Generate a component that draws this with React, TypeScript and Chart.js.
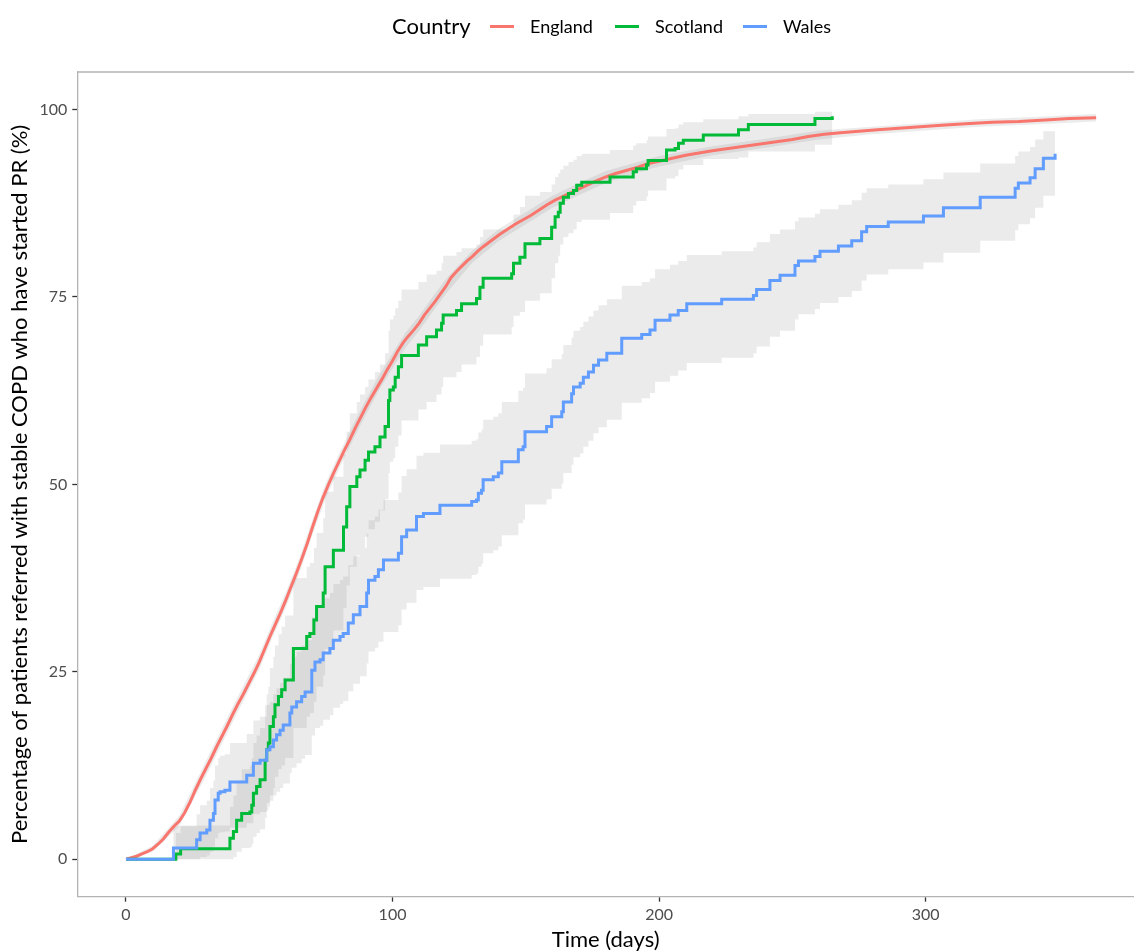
import React, { useEffect, useRef } from "react";
import { Chart, registerables } from "chart.js";

Chart.register(...registerables);

// ---------------- data ----------------
const countries = ["England", "Scotland", "Wales"];
const xTicks = [0, 100, 200, 300];
const yTicks = [0, 25, 50, 75, 100];

const englandDays = [0,2,4,6,8,10,12,14,16,18,20,22,24,26,28,30,32,34,36,38,40,42,44,46,48,50,52,54,56,58,60,62,64,66,68,70,72,74,76,78,80,82,84,86,88,90,92,94,96,98,100,102,104,106,108,110,112,114,116,118,120,122,124,126,128,130,132,134,137,140,143,146,149,152,155,158,161,164,167,170,173,176,180,184,188,192,196,200,205,210,215,220,226,232,238,244,250,256,262,268,275,282,290,298,306,315,325,335,345,354,364];
const englandPct = [0,0.2,0.4,0.7,1.0,1.4,2.0,2.7,3.6,4.4,5.1,6.2,7.6,9.2,10.7,12.1,13.5,15.0,16.4,17.8,19.3,20.7,22.0,23.4,24.8,26.3,28.0,29.7,31.3,32.9,34.6,36.4,38.2,40.1,42.1,44.3,46.4,48.3,50.0,51.6,53.1,54.6,56.0,57.5,58.9,60.3,61.6,62.8,64.0,65.3,66.5,67.8,68.9,69.8,70.6,71.5,72.6,73.5,74.4,75.4,76.4,77.6,78.4,79.1,79.8,80.4,81.1,81.7,82.5,83.3,84.0,84.7,85.3,85.9,86.6,87.3,87.9,88.4,88.9,89.4,89.9,90.4,91.0,91.5,91.9,92.3,92.8,93.1,93.5,93.9,94.2,94.5,94.8,95.1,95.4,95.7,96.0,96.4,96.7,96.9,97.1,97.3,97.5,97.7,97.9,98.1,98.3,98.4,98.6,98.8,98.9];

const englandBandDays = [0,10,20,30,40,50,55,60,65,70,75,80,85,90,95,100,105,110,115,120,130,140,150,160,170,180,190,200,220,240,260,280,300,320,340,364];
const englandUpper = [0,1.8,5.8,13.1,20.3,27.3,31.6,35.6,40.1,45.3,50.2,54.1,57.8,61.3,64.6,67.5,70.3,72.5,75,77.4,81.2,84.1,86.3,88.5,90.2,91.8,92.8,93.8,95.1,96.1,97.2,97.7,98.2,98.7,99,99.4];
const englandLower = [0,1.0,4.4,11.1,18.3,25.3,29.6,33.6,38.1,43.3,48.2,52.1,55.8,59.3,62.6,65.5,68.3,70.5,73,75.4,79.6,82.5,84.7,86.9,88.6,90.2,91.4,92.4,93.9,94.9,96,96.7,97.2,97.7,98,98.4];

const scotlandDays = [0,18.7,20.5,39,40.3,41.5,43.4,46.5,47.2,47.8,49,50.3,52.2,52.8,53.4,54,55.3,55.9,57.2,58.4,59.7,62.8,67.8,69,70.5,71.5,74,74.7,77.8,81.6,82.8,84,86.6,87.8,89.7,91,93.4,95.3,97.2,98.5,99,100.3,101,102.2,103.4,109.7,112.8,116.5,118.4,119,124,125.9,131.5,132.8,134,144.7,145.4,147.8,149.7,155.3,159.7,161,162.2,162.9,164.1,166,167.9,169.1,171,181.6,190.3,191.5,195.3,195.9,202.8,206,207.3,209.1,216.6,229.8,233.5,258.5,265];
const scotlandPct = [0,0.7,1.4,2.8,3.7,5.2,6.1,6.3,7.2,8.8,9.7,10.6,13.2,14.6,15.5,17.7,19,20.6,21.7,22.6,23.9,28.1,29.7,30.1,31.9,33.7,35.5,39,41.2,44.3,47,49.7,51,51.9,53.2,54.3,55,56.3,57.7,61.2,62.6,63,64.3,65.7,67.2,68.6,69.7,70.6,71.5,72.6,73.2,74.1,74.8,76.3,77.5,78.1,79.5,80.3,82.1,82.8,84.3,85.7,86.3,87.5,88.3,88.8,89.2,89.9,90.3,91,91.7,92.1,92.6,93.2,94.6,94.8,95.5,95.9,96.6,97.3,98,98.8,99.1];
const scotlandUpper = [0,3.5,4.5,7,8.5,10.5,12,12.5,13.5,15.5,16.5,17.5,20.5,22,23,25.5,27,28.5,30,31,32.5,37.5,39,39.5,41.5,43.5,45.5,49,51,54,57,59.5,61,62,63,64,65,66,67.5,70.5,72,72.5,73.5,74.5,76,77,78,78.5,79.5,80.5,81,81.5,82,83,84,84.5,86,87,88.5,89,90,91,91.5,92,92.5,93,93.3,93.8,94.1,94.6,95.2,95.5,95.9,96.4,97.4,97.5,98,98.3,98.7,99.1,99.4,99.7,99.8];
const scotlandLower = [0,0,0,0,0.3,1,1.5,1.6,2,3,3.5,4,5.5,6.5,7,8.5,9.5,11,12,12.5,13.5,17.5,19,19.5,21,23,24.5,28,30.5,33.5,36.5,39,40.5,41.5,43,44,45,46.5,48,51.5,53,53.5,55,56.5,58.5,60,61,62,63,64.3,65,66,67,68.5,70,71,72.5,73,74.5,75.5,77.5,79.5,80.5,82,83,83.5,84,85,85.3,86.2,87.2,87.8,88.4,89.2,90.8,91.1,92,92.6,93.4,93.6,94.4,95.3,95.6];

const walesDays = [0,17.8,26.5,27.8,30.3,31.5,32.8,33.4,34.6,35.3,37.1,39,45.3,47.8,50.3,52.8,54,55.3,56.5,57.8,59,61.5,62.2,64,65.9,67.2,69.7,70.9,72.8,74,76.5,77.8,80.3,81.5,83.4,85.3,87.8,90.3,91,93.4,94.7,96.6,102.2,103.4,105.3,109,111.6,117.8,129.7,131.5,132.2,133.4,134,137.8,139.7,141,147.2,149,149.7,157.8,159.7,163.5,164.1,167.2,167.9,170.4,171.6,173.5,175.4,177.3,180.4,186,193.5,196.6,198.5,204.1,207.2,210.4,223.5,235.4,236.6,241.6,245.4,251,252.3,258.5,260.4,267.3,272.3,276,277.9,286,299.2,306.7,320.5,333.6,334.8,339.2,341.1,344.2,348.6];
const walesPct = [0,1.5,2.6,3.5,3.9,5.2,6.1,7.9,8.8,9,9.2,10.3,11.2,12.8,13.2,14.6,15,15.9,16.6,17.2,17.9,19.5,20.3,21,21.7,22.3,25.2,26.3,26.6,27.5,28.1,29.2,29.7,30.1,31.5,32.6,33.7,35.5,37.2,37.7,38.6,39.9,40.8,43,43.9,45.7,46.1,47.2,47.7,47.9,48.8,49.2,50.6,51,51.5,53,54.6,55,57,57.7,59,59.7,61,62.1,63,63.5,64.3,65,65.9,66.6,67.5,69.5,70,70.6,71.9,72.6,73.2,74.1,74.7,75.2,76,77.2,77.9,79.2,79.8,80.4,81.1,81.8,82.5,83.7,84.4,85,85.8,86.9,88.3,89.5,90.2,90.9,92.1,93.5,94.1];
const walesUpper = [0,4.4,6,7.2,7.8,9.5,10.5,12.5,13.5,13.8,14,15.5,16.7,18.5,19,20.6,21,22,22.8,23.5,24.2,26,27,27.7,28.5,29.2,32.3,33.5,33.8,34.8,35.5,36.7,37.2,37.7,39.2,40.4,41.5,43.4,45.2,45.7,46.6,47.9,48.9,51.1,52,53.8,54.2,55.3,55.8,56,56.9,57.3,58.6,59,59.5,61,62.5,62.9,64.8,65.5,66.7,67.4,68.6,69.6,70.5,71,71.7,72.4,73.2,73.9,74.7,76.5,77,77.5,78.7,79.3,79.8,80.6,81.1,81.6,82.3,83.4,84,85.1,85.6,86.1,86.7,87.3,87.9,88.9,89.5,90,90.7,91.6,92.8,93.8,94.4,95,96,97.1,97.6];
const walesLower = [0,0,0,0.3,0.5,1,1.7,2.8,3.5,3.6,3.7,4.2,4.8,6,6.3,7.5,7.8,8.5,9,9.5,10.1,11.5,12.2,12.8,13.4,13.9,16.5,17.5,17.8,18.6,19.2,20.2,20.7,21.1,22.4,23.4,24.4,26.1,27.7,28.2,29,30.3,31.2,33.3,34.2,35.9,36.3,37.4,37.9,38.1,39,39.4,40.8,41.2,41.7,43.2,44.8,45.3,47.3,48,49.4,50.1,51.5,52.6,53.6,54.1,55,55.8,56.8,57.6,58.6,60.9,61.5,62.2,63.7,64.5,65.2,66.2,66.9,67.5,68.4,69.7,70.5,72,72.7,73.4,74.2,75,75.8,77.2,78,78.7,79.6,80.9,82.5,83.9,84.7,85.5,86.9,88.5,89.2];

// ---------------- styling ----------------
const COLORS: Record<string, string> = { England: "#F8766D", Scotland: "#00BA38", Wales: "#619CFF" };
const BAND = "rgba(128,128,128,0.16)";
const FONT = "Lato, 'Open Sans', sans-serif";

const toPts = (xs: number[], ys: number[]) => {
  const n = Math.min(xs.length, ys.length);
  const out: { x: number; y: number }[] = [];
  for (let i = 0; i < n; i++) out.push({ x: xs[i], y: ys[i] });
  return out;
};

const topBorder = {
  id: "topBorder",
  afterDraw(chart: any) {
    const { ctx, chartArea } = chart;
    ctx.save();
    ctx.strokeStyle = "#b3b3b3";
    ctx.lineWidth = 1.3;
    ctx.beginPath();
    ctx.moveTo(chartArea.left, chartArea.top);
    ctx.lineTo(chartArea.right + 2, chartArea.top);
    ctx.stroke();
    ctx.restore();
  },
};

export default function App() {
  const ref = useRef<HTMLCanvasElement | null>(null);

  useEffect(() => {
    if (!ref.current) return;
    const line = (label: string, xs: number[], ys: number[], stepped: boolean) => ({
      label,
      data: toPts(xs, ys),
      borderColor: COLORS[label],
      backgroundColor: COLORS[label],
      borderWidth: 3,
      stepped,
      tension: 0,
      pointRadius: 0,
      fill: false,
    });
    const band = (label: string, xs: number[], ys: number[], stepped: boolean, target: number | false) => ({
      label,
      data: toPts(xs, ys),
      borderColor: "transparent",
      borderWidth: 0,
      backgroundColor: BAND,
      stepped,
      tension: 0,
      pointRadius: 0,
      fill: target === false ? false : { target },
    });

    const chart = new Chart(ref.current, {
      type: "line",
      data: {
        datasets: [
          line("Wales", walesDays, walesPct, true), // 0
          line("Scotland", scotlandDays, scotlandPct, true), // 1
          line("England", englandDays, englandPct, false), // 2
          band("WalesUpper", walesDays, walesUpper, true, 4), // 3
          band("WalesLower", walesDays, walesLower, true, false), // 4
          band("ScotlandUpper", scotlandDays, scotlandUpper, true, 6), // 5
          band("ScotlandLower", scotlandDays, scotlandLower, true, false), // 6
          band("EnglandUpper", englandBandDays, englandUpper, false, 8), // 7
          band("EnglandLower", englandBandDays, englandLower, false, false), // 8
        ] as any,
      },
      options: {
        animation: false,
        responsive: false,
        maintainAspectRatio: false,
        layout: { padding: { top: 72, left: 0, right: 0, bottom: 0 } },
        plugins: { legend: { display: false }, tooltip: { enabled: false } },
        elements: { point: { radius: 0 } },
        scales: {
          x: {
            type: "linear",
            min: -18.27,
            max: 378.2,
            afterBuildTicks: (s: any) => {
              s.ticks = xTicks.map((v) => ({ value: v }));
            },
            afterFit: (s: any) => {
              s.height = 55.3;
            },
            grid: { display: true, drawOnChartArea: false, drawTicks: true, tickLength: 5, tickColor: "#333333", tickWidth: 1.3 },
            border: { display: true, color: "#b3b3b3", width: 1.3 },
            ticks: { color: "#4D4D4D", font: { family: FONT, size: 16 }, padding: 4, maxRotation: 0, autoSkip: false },
            title: {
              display: true,
              text: "Time (days)",
              color: "#000000",
              font: { family: FONT, size: 22, lineHeight: 1.1 },
              padding: { top: 0, bottom: 0 },
            },
          },
          y: {
            type: "linear",
            min: -5,
            max: 105,
            afterBuildTicks: (s: any) => {
              s.ticks = yTicks.map((v) => ({ value: v }));
            },
            afterFit: (s: any) => {
              s.width = 77.3;
            },
            grid: { display: true, drawOnChartArea: false, drawTicks: true, tickLength: 5, tickColor: "#333333", tickWidth: 1.3 },
            border: { display: true, color: "#b3b3b3", width: 1.3 },
            ticks: { color: "#4D4D4D", font: { family: FONT, size: 16 }, padding: 5, autoSkip: false },
            title: {
              display: true,
              text: "Percentage of patients referred with stable COPD who have started PR (%)",
              color: "#000000",
              font: { family: FONT, size: 22, lineHeight: 1.1 },
              padding: { top: 8, bottom: 0 },
            },
          },
        },
      } as any,
      plugins: [topBorder],
    });
    return () => chart.destroy();
  }, []);

  const legendItems = [
    { name: countries[0], keyLeft: 490, textLeft: 530 },
    { name: countries[1], keyLeft: 615, textLeft: 655 },
    { name: countries[2], keyLeft: 743, textLeft: 783 },
  ];

  return (
    <div style={{ position: "absolute", left: 0, top: 0, width: 1134, height: 952, overflow: "hidden", background: "#ffffff" }}>
      <canvas ref={ref} width={1134} height={952} style={{ position: "absolute", left: 0, top: 0, width: 1134, height: 952 }} />
      <div
        style={{
          position: "absolute",
          left: 392,
          top: 26,
          transform: "translateY(-50%)",
          fontFamily: FONT,
          fontSize: 22,
          lineHeight: "26px",
          color: "#000",
          whiteSpace: "nowrap",
        }}
      >
        Country
      </div>
      {legendItems.map((it) => (
        <React.Fragment key={it.name}>
          <div
            style={{
              position: "absolute",
              left: it.keyLeft,
              top: 25,
              width: 24,
              height: 3,
              background: COLORS[it.name],
            }}
          />
          <div
            style={{
              position: "absolute",
              left: it.textLeft,
              top: 26,
              transform: "translateY(-50%)",
              fontFamily: FONT,
              fontSize: 18,
              lineHeight: "22px",
              color: "#000",
              whiteSpace: "nowrap",
            }}
          >
            {it.name}
          </div>
        </React.Fragment>
      ))}
    </div>
  );
}
